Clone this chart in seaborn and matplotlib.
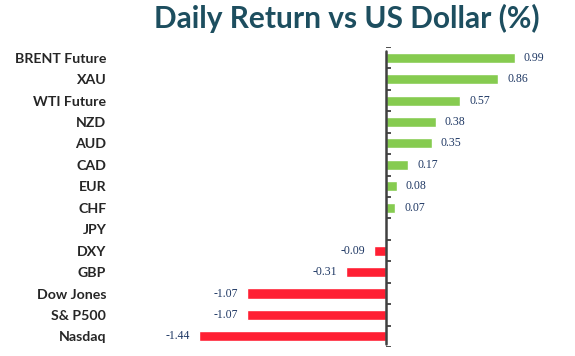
import numpy as np
import pandas as pd
import matplotlib
matplotlib.use("Agg")
import matplotlib.pyplot as plt
import seaborn as sns

assets = ["BRENT Future", "XAU", "WTI Future", "NZD", "AUD", "CAD", "EUR",
          "CHF", "JPY", "DXY", "GBP", "Dow Jones", "S& P500", "Nasdaq"]
returns = [0.99, 0.86, 0.57, 0.38, 0.35, 0.17, 0.08,
           0.07, 0.0, -0.09, -0.31, -1.07, -1.07, -1.44]

df = pd.DataFrame({"asset": assets, "ret": returns})
df["sign"] = np.where(df["ret"] >= 0, "up", "down")

sns.set_style("white")
plt.rcParams["font.family"] = ["Lato", "DejaVu Sans"]

fig = plt.figure(figsize=(5.75, 3.56), dpi=100)
ax = fig.add_axes([0.209, 0.025, 0.765, 0.843])

sns.barplot(data=df, x="ret", y="asset", hue="sign", orient="h",
            palette={"up": "#86CB50", "down": "#FF1F33"}, dodge=False,
            saturation=1, width=0.47, legend=False, ax=ax)

n = len(assets)
ax.set_xlim(-2.046, 1.338)
ax.set_ylim(n - 0.5, -0.5)

# zero axis with tick marks between categories
ax.axvline(0, ymin=0.01, ymax=0.985, color="#404040", lw=1.8)
ax.hlines(np.arange(n + 1) - 0.5, 0, 0.035, color="#404040", lw=1.3)

for i, v in enumerate(returns):
    if v == 0:
        continue
    if v > 0:
        ax.text(v + 0.07, i, f"{v:.2f}", va="center", ha="left",
                fontsize=8.5, color="#1F3864", family="Liberation Serif")
    else:
        ax.text(v - 0.07, i, f"{v:.2f}", va="center", ha="right",
                fontsize=8.5, color="#1F3864", family="Liberation Serif")

for s in ax.spines.values():
    s.set_visible(False)
ax.set_xticks([])
ax.set_xlabel("")
ax.set_ylabel("")
ax.tick_params(axis="y", length=0, pad=10)
for lab in ax.get_yticklabels():
    lab.set_fontweight("bold")
    lab.set_fontsize(10.2)
    lab.set_color("#262626")

fig.text(0.603, 0.948, "Daily Return vs US Dollar (%)", ha="center", va="center",
         fontsize=21.5, fontweight="bold", color="#1D4E5F")

fig.savefig("out.png", dpi=100)
